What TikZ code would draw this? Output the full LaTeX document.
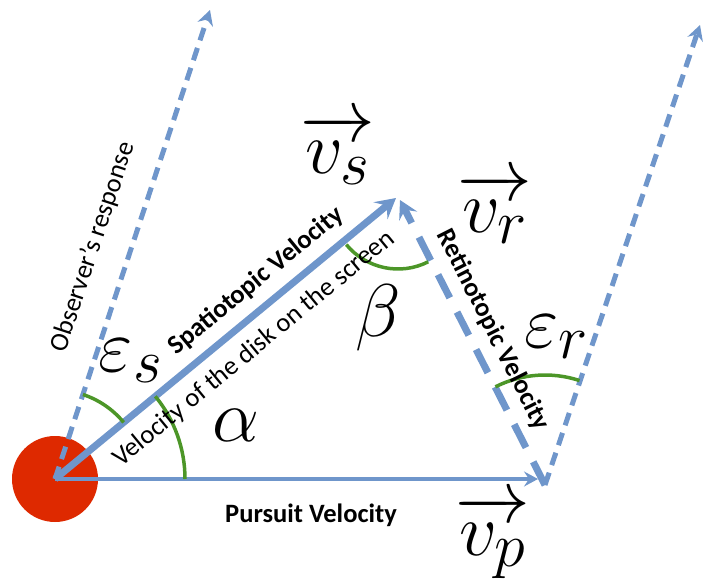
\documentclass[tikz,border=0pt]{standalone}
\usepackage{fontspec}
\setmainfont{Carlito}
\usepackage{amsmath}
\usetikzlibrary{arrows.meta}
\definecolor{lineblue}{RGB}{111,150,203}
\definecolor{arcgreen}{RGB}{76,150,40}
\definecolor{diskred}{RGB}{222,41,0}

\begin{document}
\begin{tikzpicture}[x=1pt, y=1pt, every node/.style={font=\fontsize{26.5}{30}\selectfont},
    vecline/.style={draw=lineblue},
    dashline/.style={draw=lineblue},
    anglearc/.style={draw=arcgreen, line width=3.5pt},
    boldlabel/.style={font=\fontsize{26.5}{30}\selectfont\bfseries},
    mathlabel/.style={font=\Huge, scale=3}]
    \useasboundingbox (0,0) rectangle (703,587);
    % end points of the vectors
    \coordinate (o) at (55,108);
    \coordinate (ptip) at (538,108);
    \coordinate (stip) at (396,389);
    \coordinate (otip) at (210,577);
    \coordinate (vtx) at (545,102);
    \coordinate (rtip) at (400,387);
    \coordinate (etip) at (700,562);
    \node[circle, fill=diskred, minimum size=86pt, inner sep=0pt] (disk) at (o) {};
    % vectors
    \draw[vecline, line width=4pt, -{Stealth[length=14pt,width=15pt,inset=5pt]}] (disk.center) -- (ptip);
    \draw[vecline, line width=7pt, -{Stealth[length=20pt,width=22pt,inset=8pt]}] (disk.center) -- (stip);
    \draw[dashline, line width=5pt, dash pattern=on 13pt off 8pt, -{Stealth[length=15pt,width=16pt,inset=5pt]}] (disk.center) -- (otip);
    \draw[dashline, line width=5pt, dash pattern=on 13pt off 8pt, -{Stealth[length=15pt,width=16pt,inset=5pt]}] (vtx) -- (etip);
    \draw[dashline, line width=7pt, dash pattern=on 26pt off 16pt, -{Stealth[length=18pt,width=20pt,inset=7pt]}] (vtx) -- (rtip);
    % angles
    \draw[anglearc] ([shift={(39.5:89pt)}]o) arc[start angle=39.5, end angle=71.7, radius=89pt];
    \draw[anglearc] ([shift={(0:130pt)}]o) arc[start angle=0, end angle=39.5, radius=130pt];
    \draw[anglearc] ([shift={(219.5:67pt)}]398,385) arc[start angle=219.5, end angle=296.8, radius=67pt];
    \draw[anglearc] ([shift={(71.7:110pt)}]vtx) arc[start angle=71.7, end angle=116.8, radius=110pt];
    % labels
    \node[mathlabel] (vs) at (338,438) {$\overrightarrow{v_s}$};
    \node[mathlabel] (vr) at (495,379) {$\overrightarrow{v_r}$};
    \node[mathlabel] (vp) at (493,50) {$\overrightarrow{v_p}$};
    \node[mathlabel] (es) at (131,226) {$\varepsilon_s$};
    \node[mathlabel] (alpha) at (236,162) {$\alpha$};
    \node[mathlabel] (beta) at (378,269) {$\beta$};
    \node[mathlabel] (er) at (557,250) {$\varepsilon_r$};
    \node[rotate=71.7] (obs) at (93,340) {Observer's response};
    \node[boldlabel, rotate=39.5] (spatio) at (256,306) {Spatiotopic Velocity};
    \node[rotate=39.5] (screen) at (254,238) {Velocity of the disk on the screen};
    \node[boldlabel, rotate=-63.2] (retino) at (493,257) {Retinotopic Velocity};
    \node[boldlabel] (pursuit) at (311,72) {Pursuit Velocity};
\end{tikzpicture}
\end{document}
